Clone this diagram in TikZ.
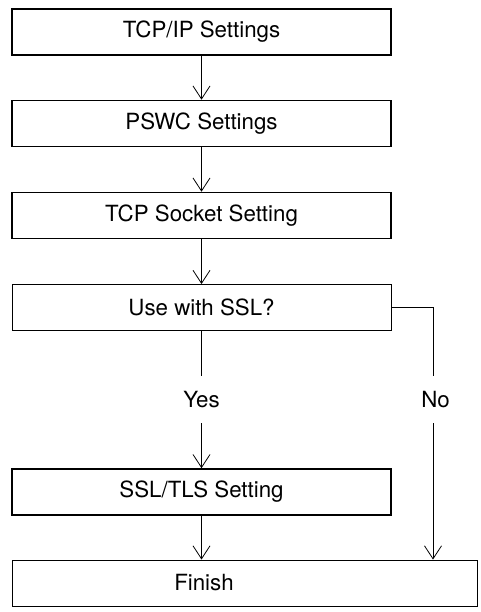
\documentclass[tikz,border=0pt]{standalone}
\usepackage{fontspec}
\setmainfont{TeX Gyre Heros}
\usetikzlibrary{arrows.meta}
\begin{document}
\begin{tikzpicture}[x=1pt,y=-1pt,
  font=\fontsize{22.3}{26}\selectfont,
  thickbox/.style={draw, line width=1.6pt, minimum width=379pt, minimum height=46pt, inner sep=0pt, anchor=center},
  thinbox/.style={draw, line width=0.9pt, minimum height=46pt, inner sep=0pt, anchor=center},
  lbl/.style={inner sep=0pt, minimum height=47pt, anchor=center},
  conn/.style={line width=0.8pt},
  arr/.style={conn, -{Straight Barb[length=13pt,width=17pt,line width=0.8pt]}}]
\useasboundingbox (0,0) rectangle (481,612);
\node[thickbox] (tcpip) at (201.5,32) {TCP/IP Settings};
\node[thickbox] (pswc) at (201.5,123.5) {PSWC Settings};
\node[thickbox] (sock) at (201.5,215.5) {TCP Socket Setting};
\node[thinbox, minimum width=379pt] (ssl) at (201.5,307.5) {Use with SSL?};
\node[lbl] (yes) at (201.5,399.5) {Yes};
\node[lbl] (no) at (433,399.5) {\hspace*{5pt}No};
\node[thickbox] (tls) at (201.5,492) {SSL/TLS Setting};
\node[thinbox, minimum width=465pt] (fin) at (244.5,583) {};
\node[inner sep=0pt] (fintxt) at (204,583) {Finish};
\draw[arr] (tcpip) -- (pswc);
\draw[arr] (pswc) -- (sock);
\draw[arr] (sock) -- (ssl);
\draw[conn] (ssl) -- (yes);
\draw[arr] (yes) -- (tls);
\draw[arr] (tls.south) -- (tls.south |- fin.north);
\draw[conn] (ssl.east) -| (no.north);
\draw[arr] (no.south) -- (no.south |- fin.north);
\end{tikzpicture}
\end{document}
